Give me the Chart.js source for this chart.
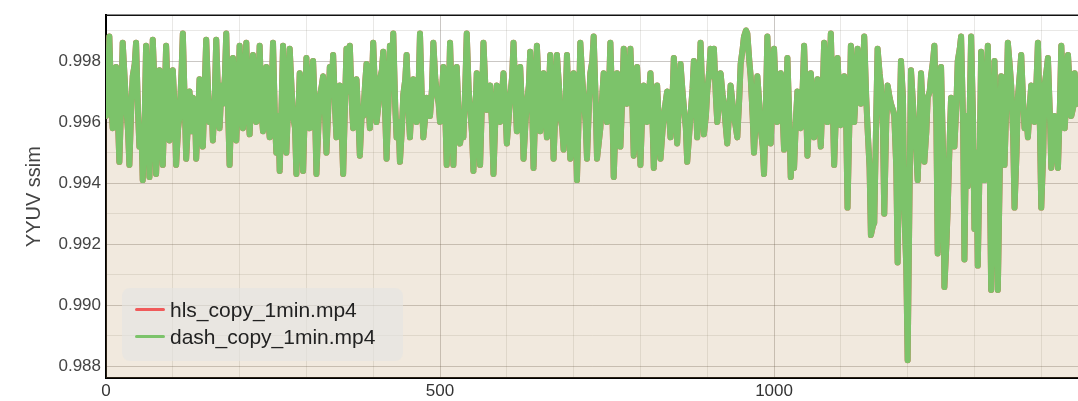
<!DOCTYPE html>
<html>
<head>
<meta charset="utf-8">
<script src="https://cdn.jsdelivr.net/npm/chart.js@4/dist/chart.umd.min.js"></script>
<style>
  body { margin: 0; background: #fff; }
  #wrap { position: relative; width: 1078px; height: 401px; }
  #legend {
    position: absolute; left: 122px; top: 288px; width: 281px; height: 73px;
    box-sizing: border-box; padding-top: 8px;
    background: rgba(228, 228, 226, 0.6); border-radius: 8px;
    font-family: "Liberation Sans", Arial, sans-serif; font-size: 21px; color: #222;
  }
  .legItem { height: 27px; display: flex; align-items: center; }
  .legLine { display: inline-block; width: 30px; height: 3px; margin: 0 5px 0 13px; border-radius: 2px; }
</style>
</head>
<body>
<div id="wrap">
  <canvas id="ssimChart" width="1078" height="401"></canvas>
  <div id="legend"></div>
</div>
<script>
// frame numbers of the sampled points
const frames = [
  0, 3, 5, 8, 10, 13, 15, 18, 20, 23, 25, 28, 30, 33, 35, 38, 40, 43, 45, 48,
  50, 53, 55, 58, 60, 63, 65, 68, 70, 73, 75, 78, 80, 83, 85, 88, 90, 93, 95, 98,
  100, 103, 105, 108, 110, 113, 115, 118, 120, 123, 125, 128, 130, 133, 135, 138, 140, 143, 145, 148,
  150, 153, 155, 158, 160, 163, 165, 168, 170, 173, 175, 178, 180, 183, 185, 188, 190, 193, 195, 198,
  200, 203, 205, 208, 210, 213, 215, 218, 220, 223, 225, 228, 230, 233, 235, 238, 240, 243, 245, 248,
  250, 253, 255, 258, 260, 263, 265, 268, 270, 273, 275, 278, 280, 283, 285, 288, 290, 293, 295, 298,
  300, 303, 305, 308, 310, 313, 315, 318, 320, 323, 325, 328, 330, 333, 335, 338, 340, 343, 345, 348,
  350, 353, 355, 358, 360, 363, 365, 368, 370, 373, 375, 378, 380, 383, 385, 388, 390, 393, 395, 398,
  400, 403, 405, 408, 410, 413, 415, 418, 420, 423, 425, 428, 430, 433, 435, 438, 440, 443, 445, 448,
  450, 453, 455, 458, 460, 463, 465, 468, 470, 473, 475, 478, 480, 483, 485, 488, 490, 493, 495, 498,
  500, 503, 505, 508, 510, 513, 515, 518, 520, 523, 525, 528, 530, 533, 535, 538, 540, 543, 545, 548,
  550, 553, 555, 558, 560, 563, 565, 568, 570, 573, 575, 578, 580, 583, 585, 588, 590, 593, 595, 598,
  600, 603, 605, 608, 610, 613, 615, 618, 620, 623, 625, 628, 630, 633, 635, 638, 640, 643, 645, 648,
  650, 653, 655, 658, 660, 663, 665, 668, 670, 673, 675, 678, 680, 683, 685, 688, 690, 693, 695, 698,
  700, 703, 705, 708, 710, 713, 715, 718, 720, 723, 725, 728, 730, 733, 735, 738, 740, 743, 745, 748,
  750, 753, 755, 758, 760, 763, 765, 768, 770, 773, 775, 778, 780, 783, 785, 788, 790, 793, 795, 798,
  800, 803, 805, 808, 810, 813, 815, 818, 820, 823, 825, 828, 830, 833, 835, 838, 840, 843, 845, 848,
  850, 853, 855, 858, 860, 863, 865, 868, 870, 873, 875, 878, 880, 883, 885, 888, 890, 893, 895, 898,
  900, 903, 905, 908, 910, 913, 915, 918, 920, 923, 925, 928, 930, 933, 935, 938, 940, 943, 945, 948,
  950, 953, 955, 958, 960, 963, 965, 968, 970, 973, 975, 978, 980, 983, 985, 988, 990, 993, 995, 998,
  1000, 1003, 1005, 1008, 1010, 1013, 1015, 1018, 1020, 1023, 1025, 1028, 1030, 1033, 1035, 1038, 1040, 1043, 1045, 1048,
  1050, 1053, 1055, 1058, 1060, 1063, 1065, 1068, 1070, 1073, 1075, 1078, 1080, 1083, 1085, 1088, 1090, 1093, 1095, 1098,
  1100, 1103, 1105, 1108, 1110, 1113, 1115, 1118, 1120, 1123, 1125, 1128, 1130, 1133, 1135, 1138, 1140, 1143, 1145, 1148,
  1150, 1153, 1155, 1158, 1160, 1163, 1165, 1168, 1170, 1173, 1175, 1178, 1180, 1183, 1185, 1188, 1190, 1193, 1195, 1198,
  1200, 1203, 1205, 1208, 1210, 1213, 1215, 1218, 1220, 1223, 1225, 1228, 1230, 1233, 1235, 1238, 1240, 1243, 1245, 1248,
  1250, 1253, 1255, 1258, 1260, 1263, 1265, 1268, 1270, 1273, 1275, 1278, 1280, 1283, 1285, 1288, 1290, 1293, 1295, 1298,
  1300, 1303, 1305, 1308, 1310, 1313, 1315, 1318, 1320, 1323, 1325, 1328, 1330, 1333, 1335, 1338, 1340, 1343, 1345, 1348,
  1350, 1353, 1355, 1358, 1360, 1363, 1365, 1368, 1370, 1373, 1375, 1378, 1380, 1383, 1385, 1388, 1390, 1393, 1395, 1398,
  1400, 1403, 1405, 1408, 1410, 1413, 1415, 1418, 1420, 1423, 1425, 1428, 1430, 1433, 1435, 1438, 1440, 1443, 1445, 1448,
  1450, 1453, 1455
];

// the two copies give the same ssim curve in the picture
const hlsSsim = [
  0.9962, 0.9970, 0.9988, 0.9966, 0.9958, 0.9972, 0.9978, 0.9960, 0.9947, 0.9968, 0.9986, 0.9974, 0.9966, 0.9957, 0.9946, 0.9966, 0.9975, 0.9979, 0.9986, 0.9963,
  0.9952, 0.9958, 0.9941, 0.9962, 0.9985, 0.9968, 0.9942, 0.9964, 0.9987, 0.9970, 0.9943, 0.9961, 0.9977, 0.9965, 0.9946, 0.9969, 0.9985, 0.9966, 0.9954, 0.9972,
  0.9977, 0.9963, 0.9946, 0.9958, 0.9962, 0.9976, 0.9989, 0.9965, 0.9948, 0.9961, 0.9970, 0.9957, 0.9968, 0.9966, 0.9948, 0.9963, 0.9974, 0.9960, 0.9952, 0.9973,
  0.9987, 0.9969, 0.9960, 0.9966, 0.9954, 0.9970, 0.9987, 0.9967, 0.9958, 0.9972, 0.9966, 0.9975, 0.9989, 0.9962, 0.9946, 0.9967, 0.9981, 0.9964, 0.9954, 0.9971,
  0.9985, 0.9966, 0.9958, 0.9973, 0.9986, 0.9964, 0.9956, 0.9970, 0.9982, 0.9967, 0.9960, 0.9972, 0.9985, 0.9963, 0.9957, 0.9968, 0.9978, 0.9961, 0.9955, 0.9969,
  0.9986, 0.9960, 0.9950, 0.9962, 0.9944, 0.9967, 0.9985, 0.9966, 0.9950, 0.9968, 0.9984, 0.9970, 0.9962, 0.9958, 0.9943, 0.9963, 0.9976, 0.9959, 0.9944, 0.9966,
  0.9981, 0.9965, 0.9958, 0.9971, 0.9980, 0.9962, 0.9943, 0.9959, 0.9968, 0.9972, 0.9975, 0.9962, 0.9950, 0.9966, 0.9978, 0.9972, 0.9982, 0.9964, 0.9955, 0.9967,
  0.9972, 0.9957, 0.9943, 0.9968, 0.9984, 0.9970, 0.9985, 0.9966, 0.9958, 0.9969, 0.9974, 0.9960, 0.9949, 0.9964, 0.9962, 0.9973, 0.9979, 0.9966, 0.9958, 0.9972,
  0.9986, 0.9968, 0.9960, 0.9966, 0.9974, 0.9977, 0.9983, 0.9962, 0.9948, 0.9967, 0.9985, 0.9975, 0.9989, 0.9965, 0.9955, 0.9960, 0.9947, 0.9958, 0.9969, 0.9974,
  0.9982, 0.9963, 0.9955, 0.9969, 0.9974, 0.9964, 0.9960, 0.9972, 0.9989, 0.9966, 0.9955, 0.9962, 0.9968, 0.9965, 0.9962, 0.9971, 0.9986, 0.9974, 0.9970, 0.9966,
  0.9960, 0.9970, 0.9978, 0.9962, 0.9946, 0.9967, 0.9986, 0.9964, 0.9946, 0.9966, 0.9978, 0.9961, 0.9953, 0.9958, 0.9955, 0.9973, 0.9989, 0.9970, 0.9965, 0.9956,
  0.9944, 0.9963, 0.9976, 0.9960, 0.9946, 0.9968, 0.9986, 0.9971, 0.9964, 0.9967, 0.9972, 0.9958, 0.9943, 0.9962, 0.9972, 0.9966, 0.9960, 0.9970, 0.9976, 0.9964,
  0.9953, 0.9962, 0.9968, 0.9975, 0.9986, 0.9968, 0.9957, 0.9970, 0.9978, 0.9963, 0.9948, 0.9960, 0.9966, 0.9972, 0.9983, 0.9964, 0.9945, 0.9967, 0.9985, 0.9970,
  0.9957, 0.9968, 0.9976, 0.9963, 0.9955, 0.9970, 0.9982, 0.9965, 0.9948, 0.9966, 0.9982, 0.9972, 0.9962, 0.9958, 0.9951, 0.9967, 0.9982, 0.9962, 0.9948, 0.9963,
  0.9976, 0.9959, 0.9941, 0.9966, 0.9986, 0.9974, 0.9968, 0.9960, 0.9948, 0.9966, 0.9976, 0.9980, 0.9988, 0.9967, 0.9948, 0.9954, 0.9958, 0.9969, 0.9976, 0.9968,
  0.9960, 0.9971, 0.9986, 0.9964, 0.9942, 0.9961, 0.9976, 0.9963, 0.9952, 0.9969, 0.9984, 0.9973, 0.9966, 0.9970, 0.9984, 0.9965, 0.9949, 0.9962, 0.9978, 0.9964,
  0.9946, 0.9965, 0.9972, 0.9966, 0.9960, 0.9970, 0.9976, 0.9961, 0.9945, 0.9962, 0.9972, 0.9958, 0.9948, 0.9957, 0.9962, 0.9967, 0.9970, 0.9962, 0.9955, 0.9968,
  0.9981, 0.9964, 0.9953, 0.9968, 0.9979, 0.9970, 0.9965, 0.9958, 0.9947, 0.9956, 0.9962, 0.9971, 0.9980, 0.9966, 0.9955, 0.9970, 0.9986, 0.9967, 0.9956, 0.9962,
  0.9970, 0.9977, 0.9984, 0.9975, 0.9984, 0.9968, 0.9960, 0.9967, 0.9976, 0.9969, 0.9966, 0.9958, 0.9953, 0.9964, 0.9972, 0.9966, 0.9962, 0.9958, 0.9955, 0.9968,
  0.9979, 0.9984, 0.9988, 0.9990, 0.9989, 0.9980, 0.9975, 0.9962, 0.9950, 0.9963, 0.9975, 0.9966, 0.9958, 0.9952, 0.9943, 0.9967, 0.9988, 0.9969, 0.9953, 0.9970,
  0.9984, 0.9968, 0.9960, 0.9969, 0.9976, 0.9962, 0.9951, 0.9967, 0.9981, 0.9960, 0.9942, 0.9955, 0.9945, 0.9962, 0.9970, 0.9963, 0.9958, 0.9972, 0.9985, 0.9965,
  0.9949, 0.9963, 0.9976, 0.9964, 0.9955, 0.9966, 0.9974, 0.9961, 0.9952, 0.9971, 0.9986, 0.9969, 0.9960, 0.9975, 0.9989, 0.9964, 0.9946, 0.9965, 0.9981, 0.9967,
  0.9959, 0.9968, 0.9975, 0.9960, 0.9932, 0.9962, 0.9985, 0.9970, 0.9960, 0.9972, 0.9984, 0.9971, 0.9966, 0.9976, 0.9988, 0.9968, 0.9958, 0.9945, 0.9923, 0.9926,
  0.9927, 0.9962, 0.9984, 0.9976, 0.9972, 0.9958, 0.9930, 0.9960, 0.9972, 0.9968, 0.9966, 0.9964, 0.9962, 0.9945, 0.9914, 0.9960, 0.9980, 0.9968, 0.9932, 0.9912,
  0.9882, 0.9940, 0.9977, 0.9966, 0.9958, 0.9950, 0.9941, 0.9960, 0.9976, 0.9962, 0.9947, 0.9957, 0.9968, 0.9970, 0.9975, 0.9980, 0.9985, 0.9960, 0.9917, 0.9950,
  0.9978, 0.9950, 0.9906, 0.9920, 0.9932, 0.9955, 0.9968, 0.9960, 0.9952, 0.9966, 0.9980, 0.9984, 0.9988, 0.9960, 0.9915, 0.9962, 0.9939, 0.9965, 0.9988, 0.9960,
  0.9925, 0.9950, 0.9913, 0.9950, 0.9983, 0.9962, 0.9941, 0.9966, 0.9985, 0.9945, 0.9905, 0.9945, 0.9980, 0.9943, 0.9905, 0.9945, 0.9975, 0.9962, 0.9946, 0.9968,
  0.9986, 0.9978, 0.9972, 0.9955, 0.9932, 0.9950, 0.9968, 0.9976, 0.9982, 0.9966, 0.9958, 0.9962, 0.9955, 0.9966, 0.9972, 0.9965, 0.9960, 0.9974, 0.9986, 0.9958,
  0.9932, 0.9950, 0.9972, 0.9977, 0.9981, 0.9962, 0.9945, 0.9955, 0.9962, 0.9953, 0.9945, 0.9966, 0.9985, 0.9970, 0.9958, 0.9968, 0.9982, 0.9970, 0.9962, 0.9965,
  0.9976, 0.9966, 0.9970
];

const dashSsim = [
  0.9962, 0.9970, 0.9988, 0.9966, 0.9958, 0.9972, 0.9978, 0.9960, 0.9947, 0.9968, 0.9986, 0.9974, 0.9966, 0.9957, 0.9946, 0.9966, 0.9975, 0.9979, 0.9986, 0.9963,
  0.9952, 0.9958, 0.9941, 0.9962, 0.9985, 0.9968, 0.9942, 0.9964, 0.9987, 0.9970, 0.9943, 0.9961, 0.9977, 0.9965, 0.9946, 0.9969, 0.9985, 0.9966, 0.9954, 0.9972,
  0.9977, 0.9963, 0.9946, 0.9958, 0.9962, 0.9976, 0.9989, 0.9965, 0.9948, 0.9961, 0.9970, 0.9957, 0.9968, 0.9966, 0.9948, 0.9963, 0.9974, 0.9960, 0.9952, 0.9973,
  0.9987, 0.9969, 0.9960, 0.9966, 0.9954, 0.9970, 0.9987, 0.9967, 0.9958, 0.9972, 0.9966, 0.9975, 0.9989, 0.9962, 0.9946, 0.9967, 0.9981, 0.9964, 0.9954, 0.9971,
  0.9985, 0.9966, 0.9958, 0.9973, 0.9986, 0.9964, 0.9956, 0.9970, 0.9982, 0.9967, 0.9960, 0.9972, 0.9985, 0.9963, 0.9957, 0.9968, 0.9978, 0.9961, 0.9955, 0.9969,
  0.9986, 0.9960, 0.9950, 0.9962, 0.9944, 0.9967, 0.9985, 0.9966, 0.9950, 0.9968, 0.9984, 0.9970, 0.9962, 0.9958, 0.9943, 0.9963, 0.9976, 0.9959, 0.9944, 0.9966,
  0.9981, 0.9965, 0.9958, 0.9971, 0.9980, 0.9962, 0.9943, 0.9959, 0.9968, 0.9972, 0.9975, 0.9962, 0.9950, 0.9966, 0.9978, 0.9972, 0.9982, 0.9964, 0.9955, 0.9967,
  0.9972, 0.9957, 0.9943, 0.9968, 0.9984, 0.9970, 0.9985, 0.9966, 0.9958, 0.9969, 0.9974, 0.9960, 0.9949, 0.9964, 0.9962, 0.9973, 0.9979, 0.9966, 0.9958, 0.9972,
  0.9986, 0.9968, 0.9960, 0.9966, 0.9974, 0.9977, 0.9983, 0.9962, 0.9948, 0.9967, 0.9985, 0.9975, 0.9989, 0.9965, 0.9955, 0.9960, 0.9947, 0.9958, 0.9969, 0.9974,
  0.9982, 0.9963, 0.9955, 0.9969, 0.9974, 0.9964, 0.9960, 0.9972, 0.9989, 0.9966, 0.9955, 0.9962, 0.9968, 0.9965, 0.9962, 0.9971, 0.9986, 0.9974, 0.9970, 0.9966,
  0.9960, 0.9970, 0.9978, 0.9962, 0.9946, 0.9967, 0.9986, 0.9964, 0.9946, 0.9966, 0.9978, 0.9961, 0.9953, 0.9958, 0.9955, 0.9973, 0.9989, 0.9970, 0.9965, 0.9956,
  0.9944, 0.9963, 0.9976, 0.9960, 0.9946, 0.9968, 0.9986, 0.9971, 0.9964, 0.9967, 0.9972, 0.9958, 0.9943, 0.9962, 0.9972, 0.9966, 0.9960, 0.9970, 0.9976, 0.9964,
  0.9953, 0.9962, 0.9968, 0.9975, 0.9986, 0.9968, 0.9957, 0.9970, 0.9978, 0.9963, 0.9948, 0.9960, 0.9966, 0.9972, 0.9983, 0.9964, 0.9945, 0.9967, 0.9985, 0.9970,
  0.9957, 0.9968, 0.9976, 0.9963, 0.9955, 0.9970, 0.9982, 0.9965, 0.9948, 0.9966, 0.9982, 0.9972, 0.9962, 0.9958, 0.9951, 0.9967, 0.9982, 0.9962, 0.9948, 0.9963,
  0.9976, 0.9959, 0.9941, 0.9966, 0.9986, 0.9974, 0.9968, 0.9960, 0.9948, 0.9966, 0.9976, 0.9980, 0.9988, 0.9967, 0.9948, 0.9954, 0.9958, 0.9969, 0.9976, 0.9968,
  0.9960, 0.9971, 0.9986, 0.9964, 0.9942, 0.9961, 0.9976, 0.9963, 0.9952, 0.9969, 0.9984, 0.9973, 0.9966, 0.9970, 0.9984, 0.9965, 0.9949, 0.9962, 0.9978, 0.9964,
  0.9946, 0.9965, 0.9972, 0.9966, 0.9960, 0.9970, 0.9976, 0.9961, 0.9945, 0.9962, 0.9972, 0.9958, 0.9948, 0.9957, 0.9962, 0.9967, 0.9970, 0.9962, 0.9955, 0.9968,
  0.9981, 0.9964, 0.9953, 0.9968, 0.9979, 0.9970, 0.9965, 0.9958, 0.9947, 0.9956, 0.9962, 0.9971, 0.9980, 0.9966, 0.9955, 0.9970, 0.9986, 0.9967, 0.9956, 0.9962,
  0.9970, 0.9977, 0.9984, 0.9975, 0.9984, 0.9968, 0.9960, 0.9967, 0.9976, 0.9969, 0.9966, 0.9958, 0.9953, 0.9964, 0.9972, 0.9966, 0.9962, 0.9958, 0.9955, 0.9968,
  0.9979, 0.9984, 0.9988, 0.9990, 0.9989, 0.9980, 0.9975, 0.9962, 0.9950, 0.9963, 0.9975, 0.9966, 0.9958, 0.9952, 0.9943, 0.9967, 0.9988, 0.9969, 0.9953, 0.9970,
  0.9984, 0.9968, 0.9960, 0.9969, 0.9976, 0.9962, 0.9951, 0.9967, 0.9981, 0.9960, 0.9942, 0.9955, 0.9945, 0.9962, 0.9970, 0.9963, 0.9958, 0.9972, 0.9985, 0.9965,
  0.9949, 0.9963, 0.9976, 0.9964, 0.9955, 0.9966, 0.9974, 0.9961, 0.9952, 0.9971, 0.9986, 0.9969, 0.9960, 0.9975, 0.9989, 0.9964, 0.9946, 0.9965, 0.9981, 0.9967,
  0.9959, 0.9968, 0.9975, 0.9960, 0.9932, 0.9962, 0.9985, 0.9970, 0.9960, 0.9972, 0.9984, 0.9971, 0.9966, 0.9976, 0.9988, 0.9968, 0.9958, 0.9945, 0.9923, 0.9926,
  0.9927, 0.9962, 0.9984, 0.9976, 0.9972, 0.9958, 0.9930, 0.9960, 0.9972, 0.9968, 0.9966, 0.9964, 0.9962, 0.9945, 0.9914, 0.9960, 0.9980, 0.9968, 0.9932, 0.9912,
  0.9882, 0.9940, 0.9977, 0.9966, 0.9958, 0.9950, 0.9941, 0.9960, 0.9976, 0.9962, 0.9947, 0.9957, 0.9968, 0.9970, 0.9975, 0.9980, 0.9985, 0.9960, 0.9917, 0.9950,
  0.9978, 0.9950, 0.9906, 0.9920, 0.9932, 0.9955, 0.9968, 0.9960, 0.9952, 0.9966, 0.9980, 0.9984, 0.9988, 0.9960, 0.9915, 0.9962, 0.9939, 0.9965, 0.9988, 0.9960,
  0.9925, 0.9950, 0.9913, 0.9950, 0.9983, 0.9962, 0.9941, 0.9966, 0.9985, 0.9945, 0.9905, 0.9945, 0.9980, 0.9943, 0.9905, 0.9945, 0.9975, 0.9962, 0.9946, 0.9968,
  0.9986, 0.9978, 0.9972, 0.9955, 0.9932, 0.9950, 0.9968, 0.9976, 0.9982, 0.9966, 0.9958, 0.9962, 0.9955, 0.9966, 0.9972, 0.9965, 0.9960, 0.9974, 0.9986, 0.9958,
  0.9932, 0.9950, 0.9972, 0.9977, 0.9981, 0.9962, 0.9945, 0.9955, 0.9962, 0.9953, 0.9945, 0.9966, 0.9985, 0.9970, 0.9958, 0.9968, 0.9982, 0.9970, 0.9962, 0.9965,
  0.9976, 0.9966, 0.9970
];

const seriesNames = ["hls_copy_1min.mp4", "dash_copy_1min.mp4"];
const xLabelEvery = 500;   // labelled x ticks
const yLabelEvery = 2;     // label every 2nd 0.001 step

const fontFamily = '"Liberation Sans", Arial, sans-serif';
const minorGrid = "rgba(120, 110, 100, 0.16)";
const majorGrid = "rgba(90, 80, 70, 0.32)";

// top frame line of the plot area
const frameLine = {
  id: "frameLine",
  afterDraw(chart) {
    const { ctx, chartArea } = chart;
    ctx.save();
    ctx.strokeStyle = "#111";
    ctx.lineWidth = 1.5;
    ctx.beginPath();
    ctx.moveTo(chartArea.left, chartArea.top);
    ctx.lineTo(chartArea.right, chartArea.top);
    ctx.stroke();
    ctx.restore();
  }
};

const chart = new Chart(document.getElementById("ssimChart"), {
  type: "line",
  data: {
    datasets: [
      {
        label: seriesNames[0],
        data: frames.map((f, i) => ({ x: f, y: hlsSsim[i] })),
        borderColor: "#f05a5a",
        backgroundColor: "rgba(190, 150, 100, 0.21)",
        fill: "start",
        borderWidth: 6,
        borderJoinStyle: "round",
        borderCapStyle: "round",
        pointRadius: 0,
        tension: 0,
        order: 2
      },
      {
        label: seriesNames[1],
        data: frames.map((f, i) => ({ x: f, y: dashSsim[i] })),
        borderColor: "#7cc36a",
        backgroundColor: "rgba(0, 0, 0, 0)",
        fill: false,
        borderWidth: 6,
        borderJoinStyle: "round",
        borderCapStyle: "round",
        pointRadius: 0,
        tension: 0,
        order: 1
      }
    ]
  },
  options: {
    responsive: false,
    animation: false,
    layout: { padding: { top: 5, right: 0, left: 0, bottom: 0 } },
    plugins: {
      legend: { display: false },
      tooltip: { enabled: false }
    },
    scales: {
      x: {
        type: "linear",
        min: 0,
        max: 1455,
        afterFit(scale) { scale.height = 23; },
        border: { color: "#000", width: 2 },
        grid: {
          drawTicks: false,
          color: c => (c.tick && c.tick.value % xLabelEvery === 0) ? majorGrid : minorGrid
        },
        ticks: {
          stepSize: 100,
          includeBounds: false,
          autoSkip: false,
          maxRotation: 0,
          padding: 3,
          color: "#333",
          font: { family: fontFamily, size: 17 },
          callback: v => (v % xLabelEvery === 0 ? String(v) : "")
        }
      },
      y: {
        min: 0.98762,
        max: 0.9995,
        afterFit(scale) { scale.width = 106; },
        border: { color: "#000", width: 2 },
        grid: {
          drawTicks: false,
          color: c => (c.tick && Math.round(c.tick.value * 1000) % yLabelEvery === 0) ? majorGrid : minorGrid
        },
        ticks: {
          stepSize: 0.001,
          includeBounds: false,
          autoSkip: false,
          padding: 5,
          color: "#444",
          font: { family: fontFamily, size: 17 },
          callback: v => (Math.round(v * 1000) % yLabelEvery === 0 ? v.toFixed(3) : "")
        },
        title: {
          display: true,
          text: "YYUV ssim",
          color: "#444",
          padding: { top: 22, bottom: 0 },
          font: { family: fontFamily, size: 20 }
        }
      }
    }
  },
  plugins: [frameLine]
});

// legend box inside the plot
const legend = document.getElementById("legend");
chart.data.datasets.forEach(ds => {
  const row = document.createElement("div");
  row.className = "legItem";
  row.innerHTML = `<span class="legLine" style="background:${ds.borderColor}"></span>${ds.label}`;
  legend.appendChild(row);
});
</script>
</body>
</html>
